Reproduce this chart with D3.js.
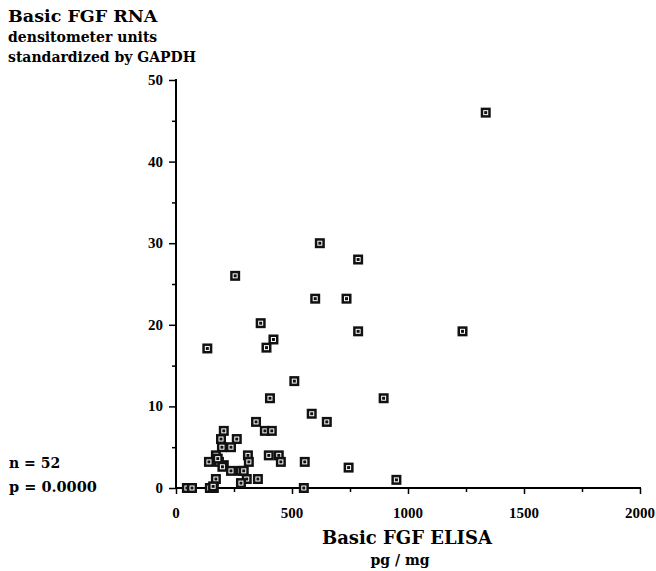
<!DOCTYPE html>
<html>
<head>
<meta charset="utf-8">
<script src="https://cdn.jsdelivr.net/npm/d3@7"></script>
<style>
body{margin:0;background:#fff;}
text{font-family:"DejaVu Serif",serif;font-weight:bold;fill:#000;}
text.tk{font-family:"Liberation Serif",serif;}
</style>
</head>
<body>
<script>
// ELISA (pg/mg) values
var elisa = [1335,620,785,255,600,735,365,785,1235,420,390,135,510,895,405,585,650,345,
  206,383,413,194,262,198,237,172,310,400,443,142,185,206,314,452,555,744,237,280,292,
  172,305,353,950,280,47,69,146,163,551,180,200,160]
// RNA densitometer units
var rna = [46,30,28,26,23.2,23.2,20.2,19.2,19.2,18.2,17.2,17.1,13.1,11,11,9.1,8.1,8.1,
  7,7,7,6,6,5,5,4,4,4,4,3.2,3.2,2.8,3.2,3.2,3.2,2.5,2.1,2.1,2.1,
  1.1,1.1,1.1,1,0.6,0,0,0,0,0,3.6,2.6,0.2]
var xTicks = [0,500,1000,1500,2000]
var yTicks = [0,10,20,30,40,50]

var svg = d3.select("body").append("svg")
  .attr("width",656).attr("height",571)

var x = d3.scaleLinear().domain([0,2000]).range([176,640])
var y = d3.scaleLinear().domain([0,50]).range([488,80])

//Axes
var xAxis = svg.append("g").attr("transform","translate(0,488)")
  .call(d3.axisBottom(x).tickValues(d3.range(0,2001,250)).tickSize(5).tickFormat(""))
xAxis.select(".domain").attr("stroke-width",2).attr("stroke","#000").attr("d","M176,0H641")
xAxis.selectAll(".tick line").attr("stroke-width",1.5)
  .attr("y2",function(d){return d%500==0 ? 6 : 4})

var yAxis = svg.append("g").attr("transform","translate(176,0)")
  .call(d3.axisLeft(y).tickValues(d3.range(0,51,5)).tickSize(5).tickFormat(""))
yAxis.select(".domain").attr("stroke-width",2).attr("stroke","#000").attr("d","M0,79V489")
yAxis.selectAll(".tick line").attr("stroke-width",1.5)
  .attr("x2",function(d){return d%10==0 ? -7 : -4})

//Tick labels
svg.selectAll(".xl").data(xTicks).enter().append("text").attr("class","tk")
  .attr("x",function(d){return x(d)}).attr("y",518)
  .attr("text-anchor","middle").attr("font-size","15px")
  .text(function(d){return d})
svg.selectAll(".yl").data(yTicks).enter().append("text").attr("class","tk")
  .attr("x",163).attr("y",function(d){return y(d)+5})
  .attr("text-anchor","end").attr("font-size","15px")
  .text(function(d){return d})

//Points
var pts = svg.selectAll(".pt").data(elisa).enter().append("g")
  .attr("transform",function(d,i){return "translate("+x(d)+","+y(rna[i])+")"})
pts.append("rect").attr("x",-5).attr("y",-5).attr("width",10).attr("height",10)
  .attr("fill","#111")
pts.append("rect").attr("x",-2).attr("y",-2).attr("width",4).attr("height",4)
  .attr("fill","none").attr("stroke","#fff").attr("stroke-width",1)

//Titles
svg.append("text").attr("x",8).attr("y",22).attr("font-size","17.5px").text("Basic FGF RNA")
svg.append("text").attr("x",8).attr("y",42).attr("font-size","14px").text("densitometer units")
svg.append("text").attr("x",8).attr("y",62).attr("font-size","14px").text("standardized  by GAPDH")
svg.append("text").attr("x",407).attr("y",544).attr("text-anchor","middle")
  .attr("font-size","18px").text("Basic FGF ELISA")
svg.append("text").attr("x",400).attr("y",565).attr("text-anchor","middle")
  .attr("font-size","14px").text("pg / mg")
svg.append("text").attr("x",9).attr("y",468).attr("font-size","14px").text("n = 52")
svg.append("text").attr("x",9).attr("y",492).attr("font-size","14.5px").text("p = 0.0000")
</script>
</body>
</html>
